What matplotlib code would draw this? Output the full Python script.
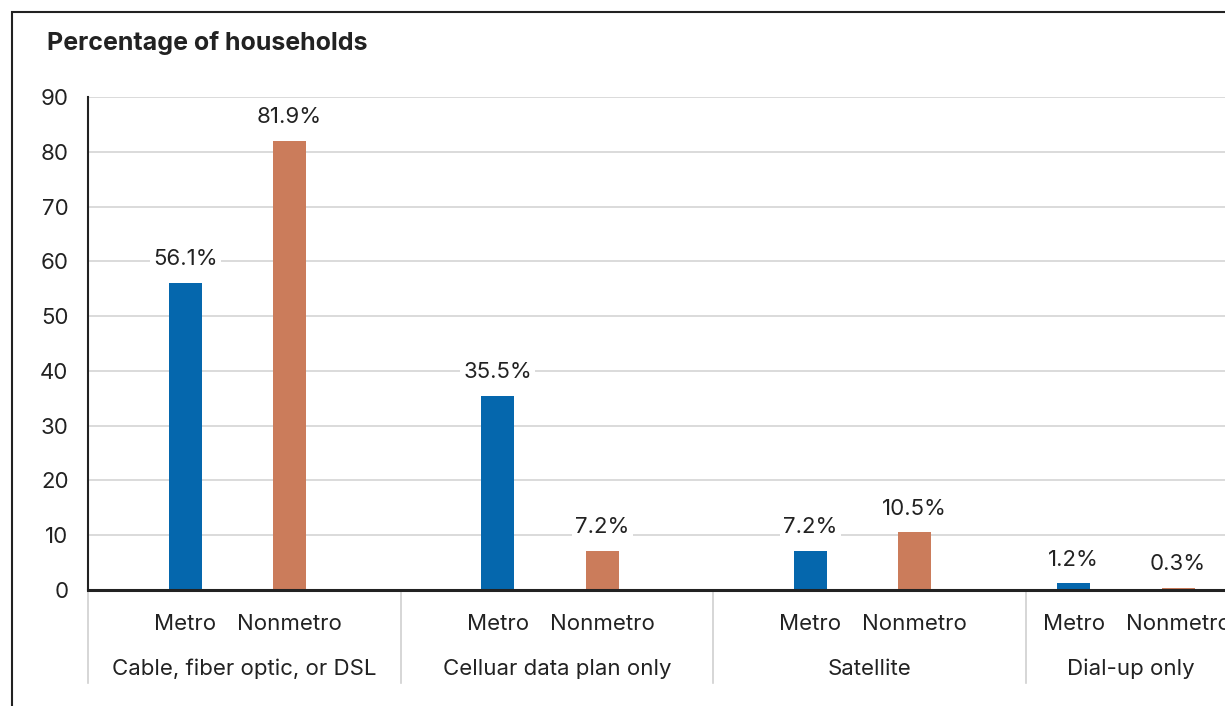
import matplotlib.pyplot as plt
from matplotlib.patches import Rectangle

plt.rcParams['font.family'] = ['Inter', 'DejaVu Sans']

categories = ['Cable, fiber optic, or DSL', 'Celluar data plan only', 'Satellite', 'Dial-up only']
groups = ['Metro', 'Nonmetro']
metro = [56.1, 35.5, 7.2, 1.2]
nonmetro = [81.9, 7.2, 10.5, 0.3]
yticks = [0, 10, 20, 30, 40, 50, 60, 70, 80, 90]

BLUE = '#0567ad'
ORANGE = '#cb7c5b'
TEXT = '#222222'
FS = 16

W, H = 1225, 706
fig = plt.figure(figsize=(W / 100, H / 100), dpi=100)

# the last group is narrower; the panel is cut off on the right
spans = [1, 1, 1, 0.672]
starts = [sum(spans[:i]) for i in range(len(spans))]
xmax = sum(spans)

left, bottom, top = 88, 590, 97
unit = 312.5
ax = fig.add_axes([left / W, (H - bottom) / H, xmax * unit / W, (bottom - top) / H])

width = 0.106
half = 0.167
for i, (m, n) in enumerate(zip(metro, nonmetro)):
    mid = starts[i] + 0.478 * spans[i]
    for x, val, col in ((mid - half, m, BLUE), (mid + half, n, ORANGE)):
        ax.bar(x, val, width=width, color=col, zorder=3)
        ax.annotate(f'{val}%', (x, val), xytext=(0, 10), textcoords='offset points',
                    ha='center', va='bottom', fontsize=FS, color=TEXT, zorder=4,
                    bbox=dict(boxstyle='square,pad=0.15', fc='white', ec='none'))

ax.set_xlim(0, xmax)
ax.set_ylim(0, 90)
ax.set_yticks(yticks)
ax.set_yticklabels([str(t) for t in yticks], fontsize=FS, color=TEXT)
ax.tick_params(axis='y', length=0, pad=14)
ax.set_xticks([])
ax.grid(axis='y', color='#d4d4d4', linewidth=1.2, zorder=0)
ax.set_axisbelow(True)

for side in ('top', 'right'):
    ax.spines[side].set_visible(False)
ax.spines['left'].set_linewidth(1.5)
ax.spines['left'].set_color('#222222')
ax.spines['bottom'].set_linewidth(2.2)
ax.spines['bottom'].set_color('#222222')
ax.spines['bottom'].set_zorder(5)

# group labels and separators below the axis
h = bottom - top
trans = ax.get_xaxis_transform()
for i, cat in enumerate(categories):
    mid = starts[i] + 0.478 * spans[i]
    for x, g in ((mid - half, groups[0]), (mid + half, groups[1])):
        ax.text(x, -(624 - bottom) / h, g, transform=trans, ha='center', va='center',
                fontsize=FS, color=TEXT)
    ax.text(starts[i] + spans[i] / 2, -(669 - bottom) / h, cat, transform=trans,
            ha='center', va='center', fontsize=FS, color=TEXT)
for s in starts:
    ax.plot([s, s], [0, -(683 - bottom) / h], transform=trans, color='#d0d0d0',
            linewidth=1.2, clip_on=False, zorder=1)

fig.text(47 / W, 1 - 43 / H, 'Percentage of households', ha='left', va='center',
         fontsize=18, fontweight='bold', color=TEXT)

fig.patches.append(Rectangle((12 / W, -0.1), 1.2, (H - 12) / H + 0.1,
                             transform=fig.transFigure, fill=False,
                             edgecolor='#222222', linewidth=1.5))

fig.savefig('out.png', dpi=100)
